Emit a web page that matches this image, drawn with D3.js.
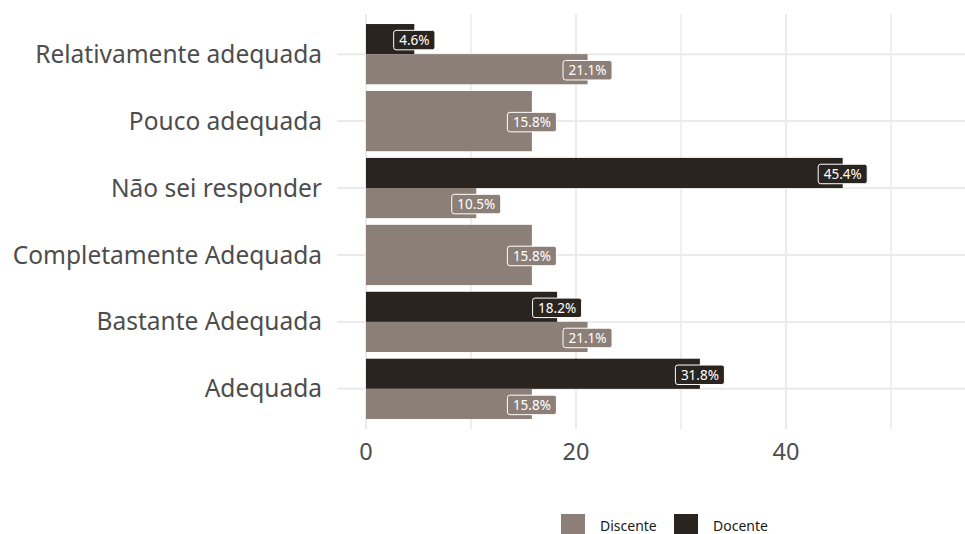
<!DOCTYPE html>
<html>
<head>
<meta charset="utf-8">
<script src="https://cdn.jsdelivr.net/npm/d3@7"></script>
<style>
  body { margin: 0; background: #fff; }
  svg { display: block; font-family: "Noto Sans", "Open Sans", sans-serif; }
</style>
</head>
<body>
<script>
// categories, bottom to top as in the chart
var categories = ["Adequada", "Bastante Adequada", "Completamente Adequada",
  "Não sei responder", "Pouco adequada", "Relativamente adequada"];
var discente = [15.8, 21.1, 15.8, 10.5, 15.8, 21.1];
var docente = [31.8, 18.2, null, 45.4, null, 4.6];
var xTicks = [0, 20, 40];
var gridTicks = [0, 10, 20, 30, 40, 50];
var seriesNames = ["Discente", "Docente"];
var colors = { Discente: "#8c7f77", Docente: "#2a2420" };

var size = { width: 965, height: 534 };
var panel = { left: 337, right: 965, top: 14, bottom: 429 };

var svg = d3.select("body").append("svg")
  .attr("width", size.width).attr("height", size.height)
  .attr("viewBox", [0, 0, size.width, size.height]);

var x = d3.scaleLinear().domain([0, 50]).range([366, 891]);
var y = d3.scalePoint().domain(categories).range([panel.bottom, panel.top]).padding(0.6);
var step = y.step();
var bw = step * 0.9;

// grid
var grid = svg.append("g");
grid.selectAll("line.v").data(gridTicks).enter().append("line")
  .attr("x1", d => x(d)).attr("x2", d => x(d))
  .attr("y1", panel.top).attr("y2", panel.bottom)
  .attr("stroke", "#ebebeb")
  .attr("stroke-width", d => d % 20 === 0 ? 2 : 1.6);
grid.selectAll("line.h").data(categories).enter().append("line")
  .attr("x1", panel.left).attr("x2", panel.right)
  .attr("y1", d => y(d)).attr("y2", d => y(d))
  .attr("stroke", "#ebebeb").attr("stroke-width", 2);

// build bar records
var bars = [];
categories.forEach(function(c, i) {
  var both = docente[i] != null;
  var cy = y(c);
  if (both) {
    bars.push({ cat: c, s: "Docente", v: docente[i], y0: cy - bw / 2, h: bw / 2 });
    bars.push({ cat: c, s: "Discente", v: discente[i], y0: cy, h: bw / 2 });
  } else {
    bars.push({ cat: c, s: "Discente", v: discente[i], y0: cy - bw / 2, h: bw });
  }
});

svg.append("g").selectAll("rect").data(bars).enter().append("rect")
  .attr("x", x(0))
  .attr("y", d => d.y0)
  .attr("width", d => x(d.v) - x(0))
  .attr("height", d => d.h)
  .attr("fill", d => colors[d.s]);

// value labels
var lab = svg.append("g").selectAll("g").data(bars).enter().append("g")
  .attr("transform", d => "translate(" + x(d.v) + "," + (d.y0 + d.h / 2 + 1) + ")");
lab.append("rect").attr("class", "box");
lab.append("text")
  .attr("text-anchor", "middle")
  .attr("dy", "0.36em")
  .attr("font-size", 13.5)
  .attr("fill", "#fff")
  .text(d => d.v.toFixed(1) + "%");
lab.each(function(d) {
  var g = d3.select(this);
  var w = g.select("text").node().getComputedTextLength() + 11;
  var h = 19.5;
  g.select("rect.box")
    .attr("x", -w / 2).attr("y", -h / 2)
    .attr("width", w).attr("height", h)
    .attr("rx", 2.5)
    .attr("fill", colors[d.s])
    .attr("stroke", "#fff").attr("stroke-width", 1);
});

// y axis labels
svg.append("g").selectAll("text").data(categories).enter().append("text")
  .attr("x", 322).attr("y", d => y(d))
  .attr("dy", "0.35em")
  .attr("text-anchor", "end")
  .attr("font-size", 24.5)
  .attr("fill", "#4d4d4d")
  .text(d => d);

// x axis labels
svg.append("g").selectAll("text").data(xTicks).enter().append("text")
  .attr("x", d => x(d)).attr("y", 452)
  .attr("dy", "0.35em")
  .attr("text-anchor", "middle")
  .attr("font-size", 23.5)
  .attr("fill", "#4d4d4d")
  .text(d => d);

// legend
var legX = [561, 674];
var leg = svg.append("g").selectAll("g").data(seriesNames).enter().append("g")
  .attr("transform", (d, i) => "translate(" + legX[i] + ",514)");
leg.append("rect").attr("width", 24).attr("height", 24).attr("fill", d => colors[d]);
leg.append("text")
  .attr("x", 39).attr("y", 12).attr("dy", "0.35em")
  .attr("font-size", 14).attr("fill", "#1a1a1a")
  .text(d => d);
</script>
</body>
</html>
